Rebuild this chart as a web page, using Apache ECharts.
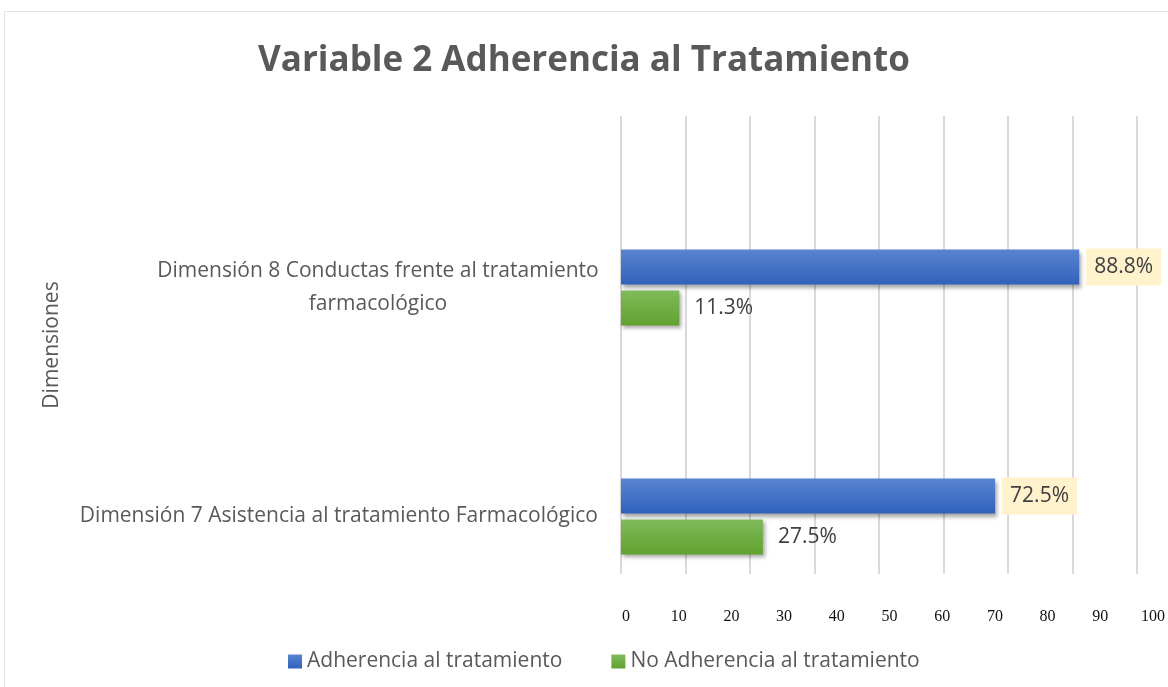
<!DOCTYPE html>
<html>
<head>
<meta charset="utf-8">
<script src="https://cdn.jsdelivr.net/npm/echarts@6/dist/echarts.min.js"></script>
<style>
    html, body { margin: 0; padding: 0; background: #fff; }
    #myChart { width: 1168px; height: 687px; }
</style>
</head>
<body>
<div id="myChart"></div>
<script>
    // datos
    var categorias = ['Dimensión 7 Asistencia al tratamiento Farmacológico', 'Dimensión 8 Conductas frente al tratamiento farmacológico'];
    var adherencia = [72.5, 88.8];
    var noAdherencia = [27.5, 11.3];
    var series_nombres = ['Adherencia al tratamiento', 'No Adherencia al tratamiento'];
    var ticks = [0, 10, 20, 30, 40, 50, 60, 70, 80, 90, 100];

    var fuente = '"Open Sans", "Noto Sans", sans-serif';

    function degradado(arriba, abajo) {
        return new echarts.graphic.LinearGradient(0, 0, 0, 1, [
            {offset: 0, color: arriba},
            {offset: 1, color: abajo}
        ]);
    }

    var myChart = echarts.init(document.getElementById('myChart'));
    myChart.setOption({
        title: {
            text: 'Variable 2 Adherencia al Tratamiento',
            left: 'center',
            top: 39,
            textStyle: {fontFamily: fuente, fontSize: 35, fontWeight: 'bold', color: '#595959'}
        },
        legend: {
            data: series_nombres,
            left: 283,
            top: 646,
            itemWidth: 14,
            itemHeight: 14,
            itemGap: 49,
            icon: 'rect',
            textStyle: {fontFamily: fuente, fontSize: 21, color: '#595959'}
        },
        graphic: [{
            type: 'rect',
            z: -10,
            shape: {x: 4.5, y: 11.5, width: 1200, height: 700},
            style: {fill: null, stroke: '#e3e3e3', lineWidth: 1}
        }],
        grid: [
            {left: 621, right: 31, top: 173, bottom: 56},
            {left: 621, right: 31, top: 116, bottom: 113},
            {left: 626, right: 14, top: 560, bottom: 84}
        ],
        xAxis: [
            {type: 'value', gridIndex: 0, min: 0, max: 100, show: false},
            {
                type: 'value', gridIndex: 1, min: 0, max: 100, interval: 12.5,
                axisLine: {show: false}, axisTick: {show: false}, axisLabel: {show: false},
                splitLine: {show: true, lineStyle: {color: '#d9d9d9', width: 2}}
            },
            {
                type: 'value', gridIndex: 2, min: 0, max: 100, interval: 10,
                axisLine: {show: false}, axisTick: {show: false}, splitLine: {show: false},
                axisLabel: {
                    margin: 6,
                    fontFamily: '"Liberation Serif", "DejaVu Serif", serif',
                    fontSize: 16,
                    color: '#111'
                }
            }
        ],
        yAxis: [
            {
                type: 'category', gridIndex: 0, data: categorias,
                axisLine: {show: false}, axisTick: {show: false},
                axisLabel: {
                    margin: 23,
                    formatter: function (v) {
                        if (v.length > 52) {
                            var i = v.lastIndexOf(' ');
                            return '{c|' + v.slice(0, i) + '}\n{c|' + v.slice(i + 1) + '}';
                        }
                        return '{s|' + v + '}';
                    },
                    rich: {
                        c: {fontFamily: fuente, fontSize: 21, color: '#595959', width: 440, align: 'center', lineHeight: 33},
                        s: {fontFamily: fuente, fontSize: 21, color: '#595959'}
                    }
                }
            },
            {
                type: 'value', gridIndex: 1,
                name: 'Dimensiones', nameLocation: 'middle', nameRotate: 90, nameGap: 558,
                nameTextStyle: {fontFamily: fuente, fontSize: 21, color: '#595959'},
                axisLine: {show: false}, axisTick: {show: false}, axisLabel: {show: false}, splitLine: {show: false}
            },
            {type: 'value', gridIndex: 2, show: false}
        ],
        series: [
            {
                name: series_nombres[0],
                type: 'bar',
                xAxisIndex: 0, yAxisIndex: 0,
                barWidth: 35,
                barGap: '17%',
                data: adherencia,
                itemStyle: {
                    color: degradado('#5a84d1', '#3061bb'),
                    shadowColor: 'rgba(0,0,0,0.35)', shadowBlur: 4, shadowOffsetX: 2, shadowOffsetY: 3
                },
                label: {
                    show: true, position: 'right', distance: 7,
                    formatter: function (p) { return p.value.toFixed(1) + '%'; },
                    fontFamily: fuente, fontSize: 21, color: '#404040',
                    backgroundColor: '#fff2cc', padding: [8, 8]
                }
            },
            {
                name: series_nombres[1],
                type: 'bar',
                xAxisIndex: 0, yAxisIndex: 0,
                barWidth: 35,
                barGap: '17%',
                data: noAdherencia,
                itemStyle: {
                    color: degradado('#80ba5a', '#61a230'),
                    shadowColor: 'rgba(0,0,0,0.35)', shadowBlur: 4, shadowOffsetX: 2, shadowOffsetY: 3
                },
                label: {
                    show: true, position: 'right', distance: 7,
                    formatter: function (p) { return p.value.toFixed(1) + '%'; },
                    fontFamily: fuente, fontSize: 21, color: '#404040',
                    padding: [8, 8]
                }
            }
        ]
    });
</script>
</body>
</html>
